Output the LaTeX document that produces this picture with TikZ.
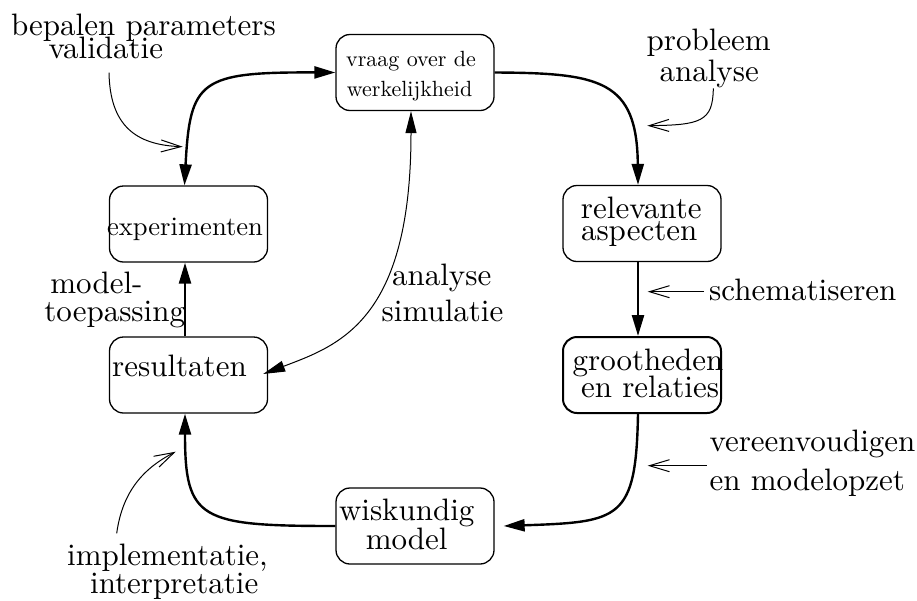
\documentclass[tikz,border=0pt]{standalone}
\usepackage{fontspec}
\setmainfont{lmroman10-regular.otf}
\usetikzlibrary{arrows.meta}
\tikzset{
  box/.style={draw, line width=1.3pt, rounded corners=14pt, minimum width=158pt, minimum height=76pt, inner sep=0pt},
  big/.style={inner sep=0pt, font=\fontsize{31}{31}\selectfont},
  mid/.style={inner sep=0pt, font=\fontsize{26.6}{26.6}\selectfont},
  small/.style={inner sep=0pt, font=\fontsize{22}{22}\selectfont},
  flow/.style={line width=2.4pt, -{Triangle[length=21pt,width=12pt]}},
  thinflow/.style={line width=1pt, {Triangle[length=22pt,width=11pt]}-{Triangle[length=22pt,width=11pt]}},
  hint/.style={line width=1pt, -{Straight Barb[length=20pt,width=12pt]}}
}
\begin{document}
\begin{tikzpicture}[x=1pt,y=-1pt]
\useasboundingbox (0,0) rectangle (917,600);
% boxes
\node[box] (vraag) at (415,72.5) {};
\node[box] (exp) at (188.5,224) {};
\node[box] (res) at (188.5,375) {};
\node[box] (rel) at (642,223.5) {};
\node[box, line width=2pt] (groot) at (642,375) {};
\node[box] (wisk) at (415,526) {};
% box texts
\node[small, anchor=base west] (t1a) at (346,66.7) {vraag over de};
\node[small, anchor=base west] (t1b) at (346.7,96) {werkelijkheid};
\node[mid, anchor=base] (t2) at (185,235) {experimenten};
\node[big, anchor=base] (t3) at (179.5,376.7) {resultaten};
\node[big, anchor=base] (t4a) at (641.3,218.3) {relevante};
\node[big, anchor=base] (t4b) at (639.2,240.7) {aspecten};
\node[big, anchor=base] (t5a) at (648,370) {grootheden};
\node[big, anchor=base] (t5b) at (650,397.7) {en relaties};
\node[big, anchor=base] (t6a) at (406.7,520) {wiskundig};
\node[big, anchor=base] (t6b) at (406.7,549) {model};
% labels
\node[big, anchor=base] (l1a) at (143.4,35) {bepalen parameters};
\node[big, anchor=base] (l1b) at (105.8,58.3) {validatie};
\node[big, anchor=base] (l2a) at (708.7,50.7) {probleem};
\node[big, anchor=base] (l2b) at (709.2,81) {analyse};
\node[big, anchor=base] (l3a) at (96.4,293) {model-};
\node[big, anchor=base] (l3b) at (114.7,321.7) {toepassing};
\node[big, anchor=base] (l4a) at (441.7,285) {analyse};
\node[big, anchor=base] (l4b) at (442.5,321.7) {simulatie};
\node[big, anchor=base west] (l5) at (709,300) {schematiseren};
\node[big, anchor=base west] (l6a) at (709.3,451.7) {vereenvoudigen};
\node[big, anchor=base west] (l6b) at (709.3,490) {en modelopzet};
\node[big, anchor=base] (l7a) at (167.5,565.7) {implementatie,};
\node[big, anchor=base] (l7b) at (174.2,593.3) {interpretatie};
% main cycle
\draw[flow, {Triangle[length=21pt,width=12pt]}-{Triangle[length=21pt,width=12pt]}]
  ([xshift=-4pt]exp.north) .. controls (190,80) and (200,72) .. (vraag.west);
\draw[flow] (vraag.east) .. controls (600,73) and (637,80) .. ([xshift=-4pt]rel.north);
\draw[flow] ([xshift=-4pt]rel.south) -- ([xshift=-4pt]groot.north);
\draw[flow] ([xshift=-4pt]groot.south) .. controls (636,520) and (620,522) .. ([xshift=9pt]wisk.east);
\draw[flow] (wisk.west) .. controls (200,526) and (185,520) .. ([xshift=-3.5pt]res.south);
\draw[flow] ([xshift=-3.5pt]res.north) -- ([xshift=-3.5pt]exp.south);
\draw[thinflow] ([xshift=-4pt]vraag.south) .. controls (411,320) and (340,345) .. ([xshift=-5pt,yshift=1pt]res.east);
% hint arrows
\coordinate (h1s) at (109,72.7);
\coordinate (h1e) at (182.7,146.7);
\coordinate (h2s) at (713.3,88.3);
\coordinate (h2e) at (647.3,125.7);
\coordinate (h3s) at (704,291.7);
\coordinate (h3e) at (647.7,291.7);
\coordinate (h4s) at (706.7,465.7);
\coordinate (h4e) at (647.7,465.7);
\coordinate (h5s) at (116.7,533.3);
\coordinate (h5e) at (175.7,451.7);
\draw[hint] (h1s) .. controls (110,125) and (135,145) .. (h1e);
\draw[hint] (h2s) .. controls (713,122) and (700,125) .. (h2e);
\draw[hint] (h3s) -- (h3e);
\draw[hint] (h4s) -- (h4e);
\draw[hint] (h5s) .. controls (122,495) and (140,470) .. (h5e);
\end{tikzpicture}
\end{document}
